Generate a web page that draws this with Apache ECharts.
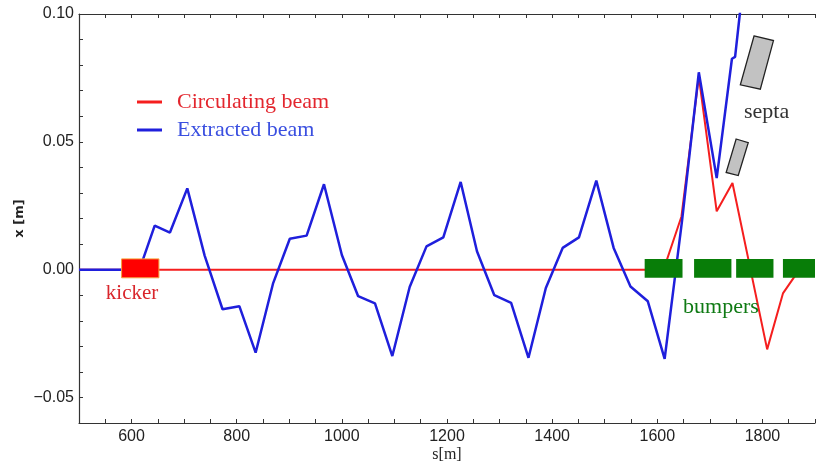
<!DOCTYPE html>
<html>
<head>
<meta charset="utf-8">
<script src="https://cdn.jsdelivr.net/npm/echarts@6/dist/echarts.min.js"></script>
<style>
  html, body { margin: 0; padding: 0; background: #fff; }
  #chart { width: 817px; height: 463px; }
</style>
</head>
<body>
<div id="chart"></div>
<script>
// beam positions along the ring (s in m, x in m)
const blueS = [500, 615, 644, 673, 706, 739, 773, 805, 836, 869, 901, 933, 966, 1000, 1031, 1063, 1096,
  1129, 1161, 1193, 1226, 1257, 1290, 1322, 1355, 1388, 1420, 1451, 1484, 1517, 1549, 1582, 1614,
  1647, 1679, 1713, 1742, 1748, 1757, 1765];
const blueX = [0, 0, 0.0172, 0.0145, 0.0318, 0.0055, -0.0155, -0.0143, -0.0325, -0.0055, 0.0121, 0.0133,
  0.0334, 0.0057, -0.0104, -0.0132, -0.0338, -0.0068, 0.0091, 0.0126, 0.0343, 0.0072, -0.0100, -0.0130,
  -0.0345, -0.0072, 0.0085, 0.0126, 0.0348, 0.0085, -0.0066, -0.0124, -0.0349, 0.019, 0.0772, 0.0358,
  0.0825, 0.0832, 0.100, 0.115];
const redS = [500, 1612, 1646, 1679, 1713, 1743, 1809, 1839, 1859, 1872, 1900];
const redX = [0, 0, 0.0208, 0.0755, 0.0228, 0.0339, -0.0312, -0.0093, -0.0033, 0, 0];

// elements: [sStart, sEnd, xBottom, xTop]
const kickerBlock = [[581, 652, -0.0032, 0.0042]];
const bumperBlocks = [[1576, 1648, -0.0032, 0.0042], [1670, 1741, -0.0032, 0.0042],
  [1750, 1821, -0.0032, 0.0042], [1839, 1900, -0.0032, 0.0042]];
// septa corners: s1, x1, s2, x2, s3, x3, s4, x4
const septaShapes = [
  [1784, 0.0914, 1821, 0.0896, 1796, 0.0706, 1758, 0.0723],
  [1750, 0.0511, 1773, 0.0497, 1754, 0.0368, 1731, 0.0380]
];
const noteText = ['kicker', 'bumpers', 'septa'];
const noteS = [601, 1721, 1808];
const noteX = [-0.0094, -0.0148, 0.0617];
const noteColor = ['#d9262c', '#0f7a14', '#333333'];
const noteSize = [21, 22, 22];

const xTickLabels = [600, 800, 1000, 1200, 1400, 1600, 1800];
const yTickLabels = [-0.05, 0, 0.05, 0.10];

const RED = '#f51e1e';
const BLUE = '#1f1fdc';
const GREEN = '#087d08';

function renderBlock(params, api) {
  const p0 = api.coord([api.value(0), api.value(3)]);
  const p1 = api.coord([api.value(1), api.value(2)]);
  return {
    type: 'rect',
    shape: { x: p0[0], y: p0[1], width: p1[0] - p0[0], height: p1[1] - p0[1] },
    style: api.style()
  };
}

function renderSeptum(params, api) {
  const pts = [];
  for (let i = 0; i < 4; i += 1) {
    pts.push(api.coord([api.value(2 * i), api.value(2 * i + 1)]));
  }
  return {
    type: 'polygon',
    shape: { points: pts },
    style: { fill: '#c2c2c2', stroke: '#222', lineWidth: 1.3 }
  };
}

function renderNote(params, api) {
  const p = api.coord([api.value(0), api.value(1)]);
  const i = params.dataIndex;
  return {
    type: 'text',
    x: p[0],
    y: p[1],
    style: {
      text: noteText[i],
      fill: noteColor[i],
      font: noteSize[i] + 'px "Liberation Serif", serif',
      align: 'center',
      verticalAlign: 'middle'
    }
  };
}

const tickFont = { fontFamily: '"Liberation Sans", sans-serif', fontSize: 16, color: '#222' };

const chart = echarts.init(document.getElementById('chart'));
chart.setOption({
  animation: false,
  backgroundColor: '#fff',
  grid: { left: 79, right: 2, top: 14, bottom: 40, containLabel: false, outerBoundsMode: 'none' },
  legend: {
    left: 132,
    top: 86,
    orient: 'vertical',
    icon: 'rect',
    itemWidth: 25,
    itemHeight: 3,
    itemGap: 6,
    selectedMode: false,
    textStyle: { fontFamily: '"Liberation Serif", serif', fontSize: 22, lineHeight: 21, padding: [0, 0, 0, 10] },
    data: [
      { name: 'Circulating beam', textStyle: { color: '#e3262e' } },
      { name: 'Extracted beam', textStyle: { color: '#3a4fe0' } }
    ]
  },
  xAxis: [{
    type: 'value',
    min: 500,
    max: 1900,
    interval: 50,
    name: 's[m]',
    nameLocation: 'middle',
    nameGap: 24,
    nameMoveOverlap: false,
    nameTextStyle: { fontFamily: '"Liberation Serif", serif', fontSize: 16, color: '#222' },
    axisLine: { onZero: false, lineStyle: { color: '#333', width: 1.2 } },
    axisTick: { inside: true, length: 4, lineStyle: { color: '#333' } },
    splitLine: { show: false },
    axisLabel: Object.assign({
      margin: 6,
      formatter: v => (xTickLabels.indexOf(v) >= 0 ? String(v) : '')
    }, tickFont)
  }, {
    type: 'value',
    position: 'top',
    min: 500,
    max: 1900,
    interval: 50,
    axisLine: { show: true, onZero: false, lineStyle: { color: '#333', width: 1.2 } },
    axisTick: { show: true, inside: true, length: 4, lineStyle: { color: '#333' } },
    axisLabel: { show: false },
    splitLine: { show: false }
  }],
  yAxis: {
    type: 'value',
    min: -0.06,
    max: 0.10,
    interval: 0.01,
    name: 'x [m]',
    nameLocation: 'middle',
    nameGap: 53,
    nameMoveOverlap: false,
    nameRotate: 90,
    nameTextStyle: { fontFamily: '"DejaVu Sans", sans-serif', fontWeight: 'bold', fontSize: 13, color: '#222' },
    axisLine: { show: true, onZero: false, lineStyle: { color: '#333', width: 1.2 } },
    axisTick: { show: true, inside: true, length: 4, lineStyle: { color: '#333' } },
    splitLine: { show: false },
    axisLabel: Object.assign({
      margin: 5,
      formatter: v => {
        const k = Math.round(v * 100);
        if (!yTickLabels.some(t => Math.round(t * 100) === k)) return '';
        return (k < 0 ? '\u2212' : '') + Math.abs(k / 100).toFixed(2);
      }
    }, tickFont)
  },
  series: [
    {
      name: 'Circulating beam',
      type: 'line',
      symbol: 'none',
      z: 2,
      color: RED,
      lineStyle: { color: RED, width: 2 },
      data: redS.map((s, i) => [s, redX[i]])
    },
    {
      name: 'Extracted beam',
      type: 'line',
      symbol: 'none',
      z: 3,
      color: BLUE,
      lineStyle: { color: BLUE, width: 2.5 },
      data: blueS.map((s, i) => [s, blueX[i]])
    },
    {
      type: 'custom',
      z: 5,
      renderItem: renderBlock,
      itemStyle: { color: '#ff0000', borderColor: '#f7a03c', borderWidth: 1 },
      data: kickerBlock
    },
    {
      type: 'custom',
      z: 5,
      renderItem: renderBlock,
      itemStyle: { color: GREEN },
      data: bumperBlocks
    },
    {
      type: 'custom',
      z: 5,
      renderItem: renderSeptum,
      data: septaShapes
    },
    {
      type: 'custom',
      z: 6,
      renderItem: renderNote,
      data: noteS.map((s, i) => [s, noteX[i]])
    }
  ]
});
</script>
</body>
</html>
